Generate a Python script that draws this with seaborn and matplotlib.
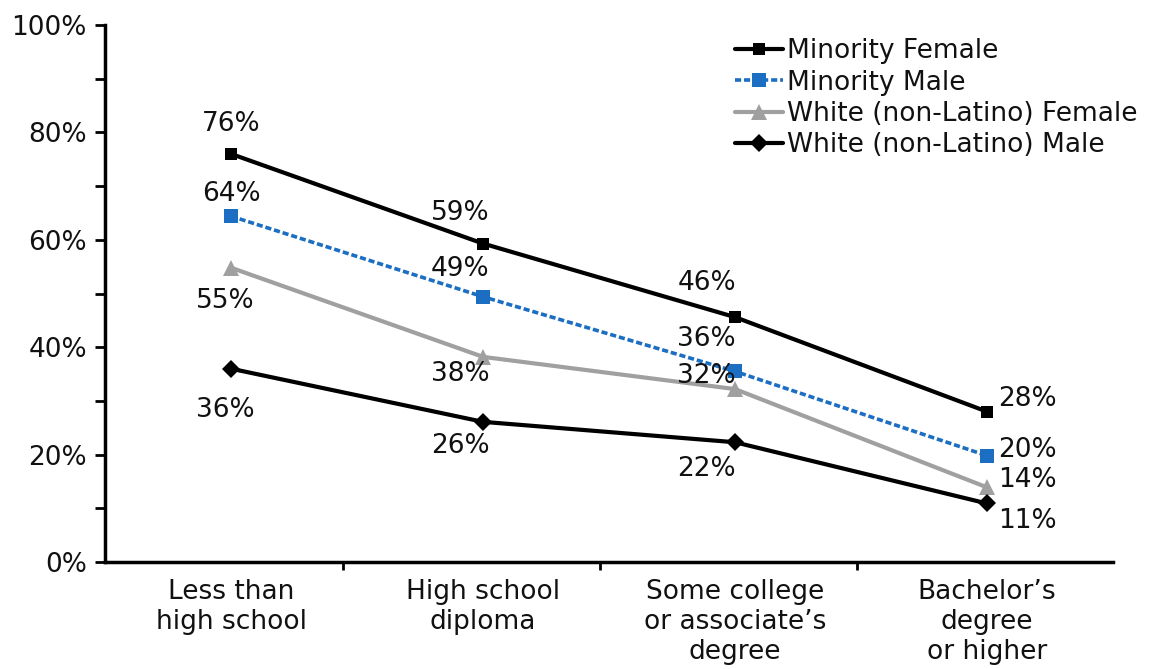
import matplotlib
matplotlib.use("Agg")
import matplotlib.pyplot as plt
import seaborn as sns
import pandas as pd
import numpy as np
from matplotlib.ticker import MultipleLocator, FixedLocator, FuncFormatter

categories = ["Less than\nhigh school", "High school\ndiploma",
              "Some college\nor associate\u2019s\ndegree", "Bachelor\u2019s\ndegree\nor higher"]
series_names = ["Minority Female", "Minority Male",
                "White (non-Latino) Female", "White (non-Latino) Male"]
minority_female = [76.0, 59.3, 45.6, 28.0]
minority_male = [64.4, 49.4, 35.5, 19.8]
white_female = [54.8, 38.2, 32.2, 13.9]
white_male = [36.0, 26.1, 22.3, 10.9]
value_labels = {
    "Minority Female": ["76%", "59%", "46%", "28%"],
    "Minority Male": ["64%", "49%", "36%", "20%"],
    "White (non-Latino) Female": ["55%", "38%", "32%", "14%"],
    "White (non-Latino) Male": ["36%", "26%", "22%", "11%"],
}
all_values = [minority_female, minority_male, white_female, white_male]

rows = []
for name, vals in zip(series_names, all_values):
    for c, v in zip(categories, vals):
        rows.append({"Education": c, "Share": v, "Group": name})
df = pd.DataFrame(rows)

sns.set_theme(style="white")
plt.rcParams["font.family"] = ["DejaVu Sans"]

styles = {
    "Minority Female": dict(color="black", ls="-", marker="s", ms=9, lw=3.0),
    "Minority Male": dict(color="#1B6EC2", ls=(0, (1.7, 0.8)), marker="s", ms=10, lw=2.6),
    "White (non-Latino) Female": dict(color="#A0A0A0", ls="-", marker="^", ms=11, lw=3.0),
    "White (non-Latino) Male": dict(color="black", ls="-", marker="D", ms=9, lw=3.0),
}
# label offsets in pixels (dx, dy)
offsets = {
    "Minority Female": [(0, 30), (-23, 31), (-28, 34), (40, 13)],
    "Minority Male": [(0, 22), (-23, 28), (-29, 32), (40, 6)],
    "White (non-Latino) Female": [(-6, -33), (-23, -17), (-29, 13), (40, 7)],
    "White (non-Latino) Male": [(-6, -41), (-23, -24), (-29, -27), (40, -18)],
}

fig = plt.figure(figsize=(11.51, 6.69), dpi=100)
ax = fig.add_axes([105 / 1151, 1 - 562 / 669, 1008 / 1151, 537 / 669])

for name in series_names:
    st = styles[name]
    sub = df[df["Group"] == name]
    sns.lineplot(data=sub, x="Education", y="Share", ax=ax, color=st["color"],
                 linestyle=st["ls"], marker=st["marker"], markersize=st["ms"],
                 linewidth=st["lw"], markeredgewidth=0, label=name, sort=False)

FS = 19
for name, vals in zip(series_names, all_values):
    for i, (v, lab) in enumerate(zip(vals, value_labels[name])):
        dx, dy = offsets[name][i]
        ax.annotate(lab, (i, v), xytext=(dx, dy), textcoords="offset pixels",
                    ha="center", va="center", fontsize=FS, color="#111111")

ax.set_xlim(-0.5, 3.5)
ax.set_ylim(0, 100)
ax.set_xlabel("")
ax.set_ylabel("")
ax.yaxis.set_major_locator(MultipleLocator(20))
ax.yaxis.set_minor_locator(MultipleLocator(10))
ax.yaxis.set_major_formatter(FuncFormatter(lambda v, p: f"{v:.0f}%"))
ax.xaxis.set_minor_locator(FixedLocator([0.445, 1.465, 2.485]))
ax.tick_params(axis="y", which="both", direction="out", length=7, width=2,
               color="black", left=True, labelsize=FS, labelcolor="#111111", pad=6)
ax.tick_params(axis="x", which="major", length=0, labelsize=FS, labelcolor="#111111", pad=12)
ax.tick_params(axis="x", which="minor", direction="out", length=6, width=2,
               color="black", bottom=True)
for s in ["top", "right"]:
    ax.spines[s].set_visible(False)
for s in ["left", "bottom"]:
    ax.spines[s].set_color("black")
    ax.spines[s].set_linewidth(2.5)
ax.grid(False)

leg = ax.legend(loc="upper left", bbox_to_anchor=(0.62, 0.985), frameon=False,
                fontsize=FS, handlelength=1.8, handletextpad=0.15, labelspacing=0.2,
                borderaxespad=0, borderpad=0.2)
for t in leg.get_texts():
    t.set_color("#111111")

fig.savefig("out.png", dpi=100)
